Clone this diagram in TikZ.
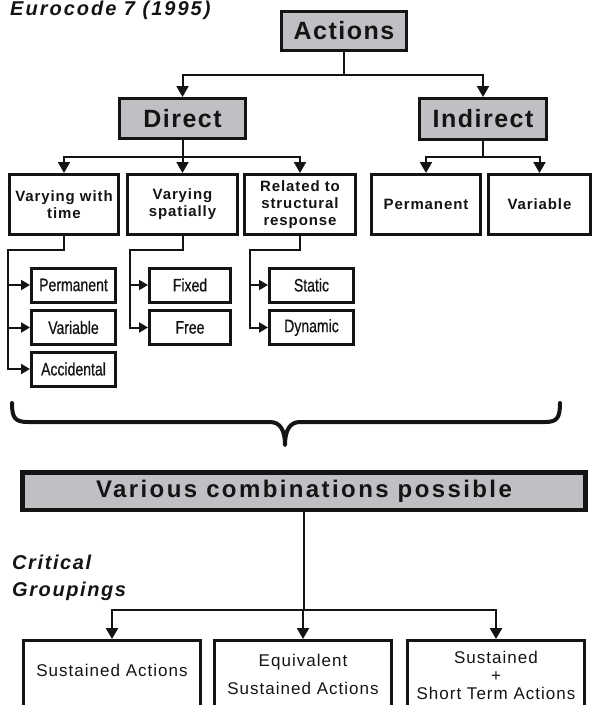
\documentclass[tikz,border=0pt]{standalone}
\usepackage{fontspec}
\setmainfont{Liberation Sans}[LetterSpace=6]
\newfontfamily\widefont{Liberation Sans}[LetterSpace=10]
\newfontfamily\headfont{Liberation Sans}[LetterSpace=8]
\newfontfamily\narrowfont{Liberation Sans}[FakeStretch=0.78, FakeBold=0.6]
\usetikzlibrary{arrows.meta}
\definecolor{boxgray}{RGB}{192,192,196}
\definecolor{ink}{RGB}{20,20,20}
\tikzset{
  box/.style={draw=ink, line width=3pt, inner sep=0pt, align=center, text=ink},
  graybox/.style={box, fill=boxgray, font=\bfseries\fontsize{25}{30}\selectfont},
  midbox/.style={box, minimum height=60pt, font=\bfseries\fontsize{15}{16.8}\selectfont},
  smallbox/.style={box, minimum height=34pt, font=\narrowfont\fontsize{18}{20}\selectfont},
  botbox/.style={box, minimum width=177pt, minimum height=80pt},
  bottext/.style={inner sep=0pt, align=center, text=ink, font=\fontsize{17}{18}\selectfont},
  conn/.style={draw=ink, line width=2pt},
  arr/.style={conn, -{Triangle[width=12pt,length=11pt]}},
  sarr/.style={conn, -{Triangle[width=10pt,length=9pt]}},
  bconn/.style={draw=ink, line width=2.5pt},
  barr/.style={bconn, -{Triangle[width=12pt,length=11pt]}},
  bracestyle/.style={draw=ink, line width=4pt, line cap=round, line join=round},
  heading/.style={inner sep=0pt, text=ink, font=\bfseries\itshape\fontsize{20}{27}\selectfont}
}
\begin{document}
\begin{tikzpicture}[x=1pt, y=-1pt]
\useasboundingbox (0,0) rectangle (593,705);

% title
\node[heading, font=\widefont\bfseries\itshape\fontsize{20}{27}\selectfont, anchor=base west] (title) at (10,15) {Eurocode 7 (1995)};

% top level
\node[graybox, minimum width=125pt, minimum height=39pt] (actions) at (344,31) {Actions};
\node[graybox, minimum width=126pt, minimum height=40pt] (direct) at (182.5,118.5) {Direct};
\node[graybox, minimum width=127pt, minimum height=41pt] (indirect) at (483,119) {Indirect};

% level 3
\node[midbox, minimum width=109pt] (vt) at (64,204.5) {Varying with\\time};
\node[midbox, minimum width=110pt] (vs) at (182.5,204.5) {Varying\\spatially};
\node[midbox, minimum width=111pt] (rs) at (300,204.5) {Related to\\structural\\response};
\node[midbox, minimum width=109pt] (ip) at (426,204.5) {Permanent};
\node[midbox, minimum width=102pt] (iv) at (539.5,204.5) {Variable};

% level 4
\node[smallbox, minimum width=84pt] (p1) at (73.5,285) {Permanent};
\node[smallbox, minimum width=84pt] (v1) at (73.5,327.5) {Variable};
\node[smallbox, minimum width=84pt] (a1) at (73.5,369) {Accidental};
\node[smallbox, minimum width=81pt] (fx) at (190,285) {Fixed};
\node[smallbox, minimum width=81pt] (fr) at (190,327.5) {Free};
\node[smallbox, minimum width=84pt] (st) at (311.5,285) {Static};
\node[smallbox, minimum width=84pt] (dy) at (311.5,327.5) {Dynamic};

% connectors top
\coordinate (aj) at (344,75);
\draw[conn] (actions.south) -- (aj);
\draw[arr] (aj) -| (direct.north);
\draw[arr] (aj) -| (indirect.north);

\coordinate (dj) at (182.5,157);
\draw[conn] (direct.south) -- (dj);
\draw[arr] (dj) -| (vt.north);
\draw[arr] (dj) -| (vs.north);
\draw[arr] (dj) -| (rs.north);

\coordinate (ij) at (483,157);
\draw[conn] (indirect.south) -- (ij);
\draw[arr] (ij) -| (ip.north);
\draw[arr] (ij) -| (iv.north);

% connectors level 4
\coordinate (tj) at (8,250);
\draw[sarr] (vt.south) |- (tj) |- (a1.west);
\draw[sarr] (tj) |- (p1.west);
\draw[sarr] (tj) |- (v1.west);

\coordinate (sj) at (130,250);
\draw[sarr] (vs.south) |- (sj) |- (fr.west);
\draw[sarr] (sj) |- (fx.west);

\coordinate (rj) at (250,250);
\draw[sarr] (rs.south) |- (rj) |- (dy.west);
\draw[sarr] (rj) |- (st.west);

% brace
\coordinate (bl) at (12,403);
\coordinate (br) at (560,403);
\coordinate (btip) at (285,445);
\draw[bracestyle] (bl) .. controls (12,418) and (15,422) .. (28,422) -- (270,422)
  .. controls (280,422) and (285,430) .. (btip)
  .. controls (285,430) and (290,422) .. (300,422) -- (545,422)
  .. controls (557,422) and (560,418) .. (br);

% combinations
\node[box, fill=boxgray, line width=4.5pt, minimum width=563pt, minimum height=37.5pt,
      font=\widefont\bfseries\fontsize{24}{28}\selectfont] (various) at (304,491) {Various combinations possible};

\node[heading, font=\headfont\bfseries\itshape\fontsize{20}{27}\selectfont, anchor=north west, align=left] (crit) at (12,555) {Critical\\Groupings};

% bottom boxes
\node[botbox] (g1) at (112,680.5) {};
\node[botbox] (g2) at (303,680.5) {};
\node[botbox] (g3) at (496,680.5) {};
\node[bottext] (g1t) at (112,670) {Sustained Actions};
\node[bottext, font=\fontsize{17}{28}\selectfont] (g2t) at (303,674) {Equivalent\\Sustained Actions};
\node[bottext] (g3t) at (496,675) {Sustained\\+\\Short Term Actions};

\coordinate (cj) at (various.south |- 0,610);
\draw[bconn] (various.south) -- (cj);
\draw[barr] (cj) -| (g1.north);
\draw[barr] (cj) -| (g2.north);
\draw[barr] (cj) -| (g3.north);
\end{tikzpicture}
\end{document}
